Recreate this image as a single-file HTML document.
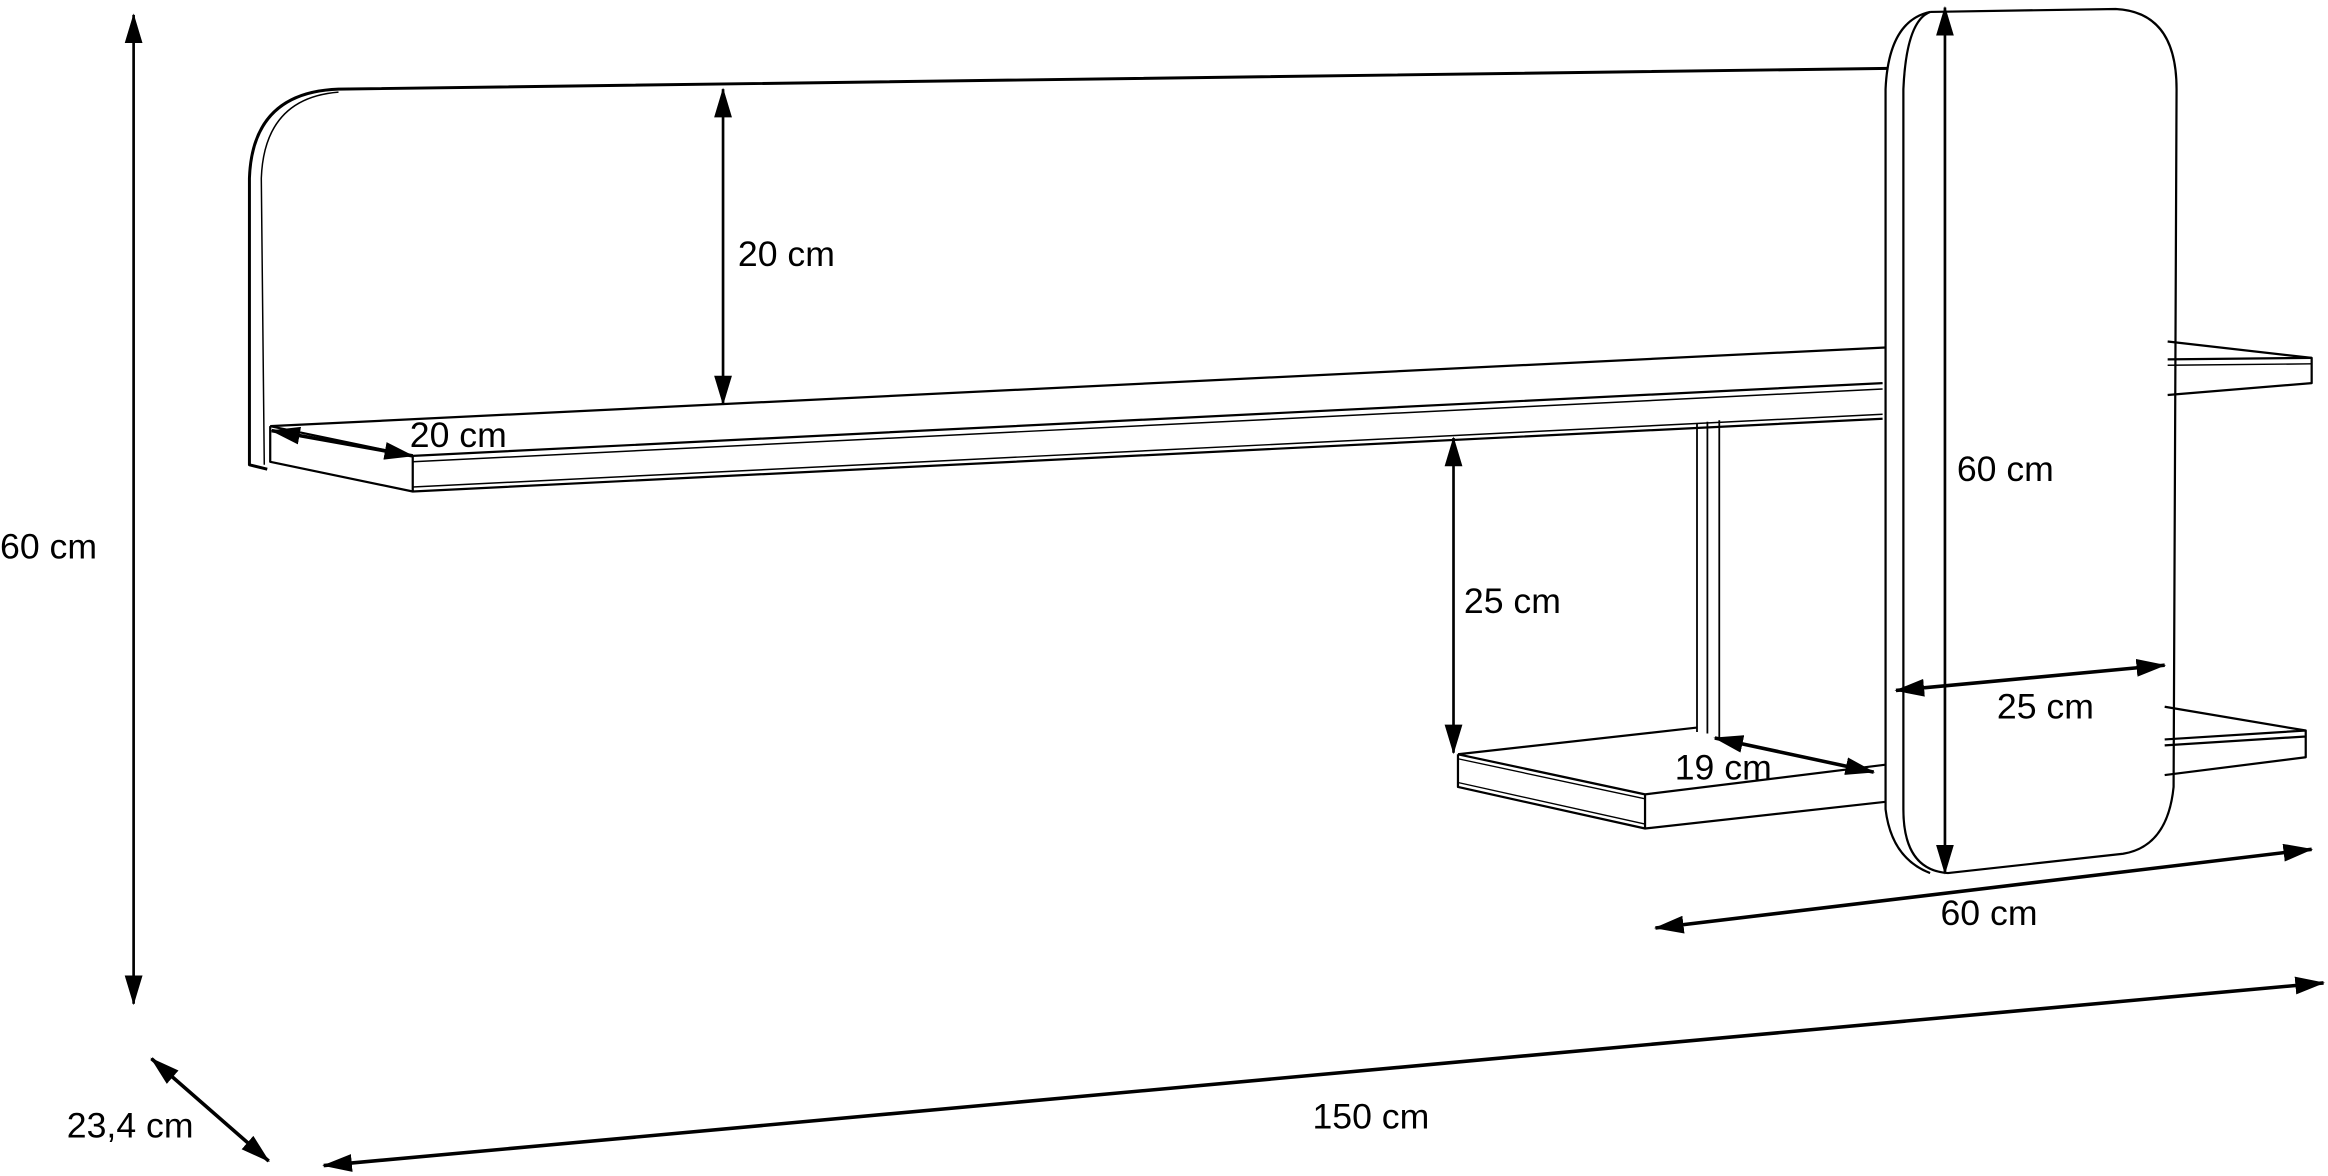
<!DOCTYPE html>
<html><head><meta charset="utf-8"><style>
html,body{margin:0;padding:0;background:#fff;width:2328px;height:1176px;overflow:hidden}
svg{display:block}
text{font-family:"Liberation Sans Narrow","Liberation Sans",sans-serif;font-size:24px;fill:#000}
</style></head><body>
<svg width="2328" height="1176" viewBox="0 0 1568 792" xmlns="http://www.w3.org/2000/svg">
<defs>
<marker id="a" viewBox="0 0 20 12" refX="19" refY="6" markerWidth="20" markerHeight="12" markerUnits="userSpaceOnUse" orient="auto-start-reverse">
<path d="M0,0 L20,6 L0,12 z" fill="#000"/></marker>
</defs>
<g fill="none" stroke="#000" stroke-width="1.5" stroke-linejoin="round">
<!-- back panel -->
<path d="M1272,46 L228,60 Q170,62 168,120 L168,313 L180,316" stroke-width="2"/>
<path d="M228,62 Q178,66 176,120 L178,313" stroke-width="1"/>
<!-- upper shelf -->
<path d="M182,287 L1270,234"/>
<path d="M182,287 L278,307 L1268,258"/>
<path d="M278,311 L1268,262" stroke-width="1"/>
<path d="M278,307 L278,331 L1268,282"/>
<path d="M278,328 L1268,279" stroke-width="1"/>
<path d="M182,287 L182,311 L278,331"/>
<!-- right extension upper -->
<path d="M1460,230 L1557,241 L1557,258 L1460,266"/>
<path d="M1460,242 L1557,241"/>
<path d="M1460,246 L1557,245" stroke-width="1"/>
<!-- post -->
<path d="M1143,285 L1143,493 M1158,283 L1158,497 M1150,284 L1150,494" stroke-width="1.2"/>
<!-- lower shelf -->
<path d="M982,508 L1143,490 M982,508 L1108,535 L1270,515 M982,508 L982,530 L1108,558 L1270,540 M1108,535 L1108,558"/>
<path d="M982,511 L1108,538 M982,527 L1108,555" stroke-width="0.9"/>
<path d="M1458,476 L1553,492 L1553,510 L1458,522 M1458,498 L1553,492 M1458,502 L1553,496"/>
<!-- vertical panel -->
<path d="M1300,8 Q1272,14 1270,60 L1270,545 Q1274,578 1300,588"/>
<path d="M1300,8 L1425,6 Q1466,8 1466,60 L1464,530 Q1460,570 1430,575 L1312,588 Q1282,586 1282,545 L1282,60 Q1284,14 1300,8"/>
</g>
<!-- dimension arrows -->
<g stroke="#000" stroke-width="2.4" marker-start="url(#a)" marker-end="url(#a)" fill="none">
<line x1="90" y1="10" x2="90" y2="676" stroke-width="1.8"/>
<line x1="102" y1="713" x2="181" y2="782"/>
<line x1="218" y1="785" x2="1565" y2="662"/>
<line x1="1115" y1="625" x2="1557" y2="572"/>
<line x1="487" y1="60" x2="487" y2="272" stroke-width="1.8"/>
<line x1="183" y1="290" x2="278" y2="307"/>
<line x1="979" y1="295" x2="979" y2="507" stroke-width="1.8"/>
<line x1="1310" y1="5" x2="1310" y2="588" stroke-width="1.8"/>
<line x1="1277" y1="465" x2="1458" y2="448"/>
<line x1="1155" y1="497" x2="1262" y2="520"/>
</g>
<text x="0" y="376">60 cm</text>
<text x="45" y="766">23,4 cm</text>
<text x="884" y="760">150 cm</text>
<text x="1307" y="623">60 cm</text>
<text x="497" y="179">20 cm</text>
<text x="276" y="301">20 cm</text>
<text x="986" y="413">25 cm</text>
<text x="1318" y="324">60 cm</text>
<text x="1345" y="484">25 cm</text>
<text x="1128" y="525">19 cm</text>
</svg>
</body></html>
